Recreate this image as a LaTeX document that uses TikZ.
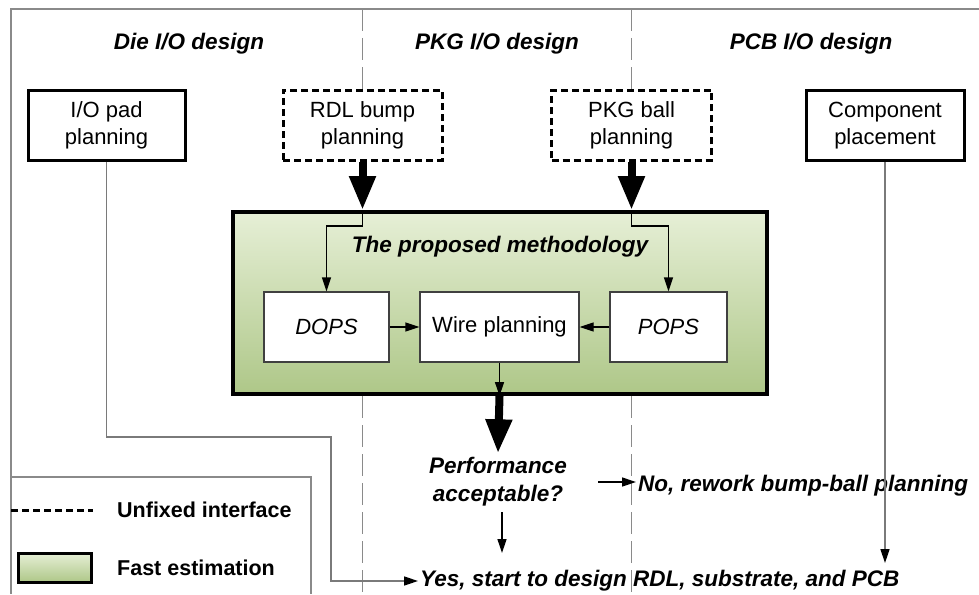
\documentclass[tikz,border=0pt]{standalone}
\usepackage{fontspec}
\setmainfont{Liberation Sans}
\usetikzlibrary{arrows.meta,calc}
\definecolor{gtop}{HTML}{E6EFD6}
\definecolor{gbot}{HTML}{AEC788}
\definecolor{framegray}{HTML}{8A8A8A}
\definecolor{linegray}{HTML}{7A7A7A}
\tikzset{
  fnt/.style={font=\fontsize{22}{27}\selectfont},
  bifnt/.style={font=\fontsize{22.5}{28}\selectfont\bfseries\itshape},
  box/.style={draw,line width=3pt,minimum height=70pt,align=center,fnt,inner sep=0pt},
  unfixed/.style={box,dash pattern=on 7pt off 4pt},
  inbox/.style={draw=black!75,line width=1.3pt,fill=white,minimum height=70pt,fnt,inner sep=0pt},
  greenbox/.style={draw,line width=4pt,top color=gtop,bottom color=gbot},
  thinarrow/.style={-{Triangle[width=9pt,length=14pt]},line width=1.3pt},
  bigarrow/.style={-{Triangle[width=25pt,length=34pt]},line width=8pt},
  grayline/.style={draw=linegray,line width=1.6pt,-{Triangle[width=9pt,length=14pt,color=black]}},
  divider/.style={draw=framegray,line width=1.3pt,dash pattern=on 22pt off 7pt},
}
\begin{document}
\begin{tikzpicture}[x=1pt,y=-1pt]
\useasboundingbox (0,0) rectangle (979,594);
\fill[white] (0,0) rectangle (979,594);
% outer frame
\draw[framegray,line width=2pt] (979,9) -- (11,9) -- (11,594);
% headers
\node[bifnt] (h1) at (189,44) {Die I/O design};
\node[bifnt] (h2) at (497,44) {PKG I/O design};
\node[bifnt] (h3) at (811,44) {PCB I/O design};
% top boxes
\node[box,minimum width=157pt] (pad) at (106.5,125) {I/O pad\\planning};
\node[unfixed,minimum width=159pt] (rdl) at (362.5,125) {RDL bump\\planning};
\node[unfixed,minimum width=160pt] (pkg) at (631.5,125) {PKG ball\\planning};
\node[box,minimum width=158pt] (comp) at (885,125.5) {Component\\placement};
% dividers
\coordinate (d1t) at (362.5,9);
\coordinate (d2t) at (631.5,9);
\draw[divider] (d1t) -- (rdl.north);
\draw[divider] (d2t) -- (pkg.north);
% methodology box
\node[greenbox,minimum width=534pt,minimum height=182pt] (meth) at (500,303) {};
\node[bifnt] (title) at (500,247) {The proposed methodology};
\node[inbox,minimum width=125pt] (dops) at (326.5,327) {\itshape DOPS};
\node[inbox,minimum width=159pt] (wire) at (499.5,327) {Wire planning};
\node[inbox,minimum width=117pt] (pops) at (668.5,327) {\itshape POPS};
\coordinate (j1) at (rdl.south |- meth.north);
\coordinate (j2) at (pkg.south |- meth.north);
\coordinate (j3) at (wire.south |- meth.south);
\draw[divider] (meth.south -| d1t) -- (362.5,594);
\draw[divider] (meth.south -| d2t) -- (631.5,594);
% arrows into methodology
\draw[bigarrow] (rdl.south) -- (j1);
\draw[bigarrow] (pkg.south) -- (j2);
\draw[thinarrow] (j1) -- ++(0,16) -| (dops.north);
\draw[thinarrow] (j2) -- ++(0,16) -| (pops.north);
\draw[thinarrow] (dops.east) -- (wire.west);
\draw[thinarrow] (pops.west) -- (wire.east);
\draw[thinarrow] (wire.south) -- (j3);
% decision
\node[bifnt,align=center,inner sep=4pt] (perf) at (498,482) {Performance\\acceptable?};
\draw[bigarrow] (j3) -- (perf.north);
\node[bifnt,anchor=west,inner sep=2pt] (no) at (636,486) {No, rework bump-ball planning};
\coordinate (na) at (598,482);
\draw[thinarrow] (na) -- (na -| no.west);
\node[bifnt,anchor=west,inner sep=2pt] (yes) at (418,581) {Yes, start to design RDL, substrate, and PCB};
\coordinate (ya) at (502,512);
\draw[thinarrow] (ya) -- (502,553);
% side lines
\coordinate (c1) at (331,437);
\draw[grayline] (pad.south) |- (c1) |- (yes.west);
\draw[grayline] (comp.south) -- (comp.south |- 0,563);
% legend
\draw[framegray,line width=1.5pt] (11,477) -- (311,477) -- (311,594);
\coordinate (l1a) at (11,510);
\coordinate (l1b) at (93,510);
\draw[line width=3pt,dash pattern=on 7pt off 4pt] (l1a) -- (l1b);
\node[font=\fontsize{21.5}{26}\selectfont\bfseries,anchor=west,inner sep=0pt] (lt1) at (117,510) {Unfixed interface};
\node[greenbox,line width=3pt,minimum width=73pt,minimum height=29pt,inner sep=0pt] (lg) at (54.5,567.5) {};
\node[font=\fontsize{21.5}{26}\selectfont\bfseries,anchor=west,inner sep=0pt] (lt2) at (117,568) {Fast estimation};
\end{tikzpicture}
\end{document}
